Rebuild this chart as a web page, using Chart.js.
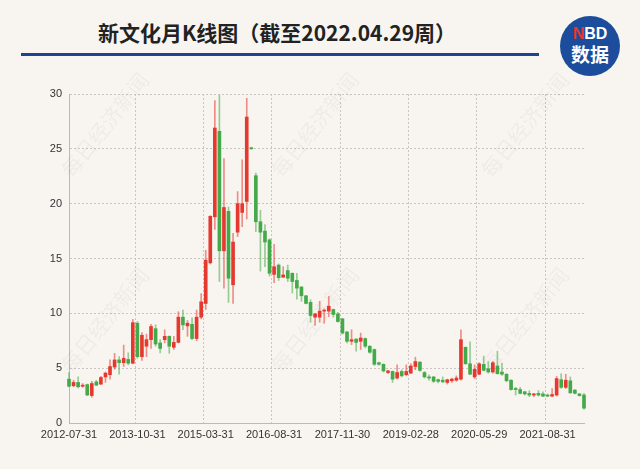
<!DOCTYPE html>
<html>
<head>
<meta charset="utf-8">
<script src="https://cdn.jsdelivr.net/npm/chart.js@4.4.1/dist/chart.umd.min.js"></script>
<style>
  html, body { margin: 0; padding: 0; background: #f8f5f0; }
  #wrap { position: relative; width: 640px; height: 469px; background: #f8f5f0; overflow: hidden; }
  #title { position: absolute; left: 0; width: 554px; top: 17px; text-align: center;
    font: bold 21px "Noto Sans CJK SC", sans-serif; color: #222; }
  #rule { position: absolute; left: 21px; width: 518px; top: 53px; height: 3px; background: #1a4592; }
  #logo { position: absolute; left: 560px; top: 16px; width: 60px; height: 60px; border-radius: 50%;
    background: #1b4d9c; color: #fff; text-align: center; font-family: "Noto Sans CJK SC", sans-serif; font-weight: bold; }
  #logo .nbd { position: absolute; top: 9px; width: 100%; font: bold 16px "Liberation Sans", sans-serif; }
  #logo .nbd span { color: #e8352e; }
  #logo .sj { position: absolute; top: 27px; width: 100%; font-size: 19px; line-height: 22px; }
  canvas { position: absolute; left: 0; top: 0; }
</style>
</head>
<body>
<div id="wrap">
  <div id="title">新文化月K线图（截至2022.04.29周）</div>
  <div id="rule"></div>
  <div id="logo"><div class="nbd"><span>N</span>BD</div><div class="sj">数据</div></div>
  <canvas id="kchart" width="640" height="469"></canvas>
</div>
<script>
// monthly candles, index 0 = 2012-07
const dates = [
  '2012-07-31','2012-08-31','2012-09-28','2012-10-31','2012-11-30','2012-12-31','2013-01-31','2013-02-28',
  '2013-03-29','2013-04-26','2013-05-31','2013-06-28','2013-07-31','2013-08-30','2013-09-30','2013-10-31',
  '2013-11-29','2013-12-31','2014-03-31','2014-04-30','2014-05-30','2014-06-30','2014-07-31','2014-08-29',
  '2014-09-30','2014-10-31','2014-11-28','2014-12-31','2015-01-30','2015-02-27','2015-03-31','2015-04-30',
  '2015-05-29','2015-06-30','2015-07-31','2015-08-31','2015-09-30','2015-10-30','2015-11-30','2015-12-31',
  '2016-03-31','2016-04-29','2016-05-31','2016-06-30','2016-07-29','2016-08-31','2016-09-30','2016-10-31',
  '2016-11-30','2016-12-30','2017-01-26','2017-02-28','2017-03-31','2017-04-28','2017-05-31','2017-06-30',
  '2017-07-31','2017-08-31','2017-09-29','2017-10-31','2017-11-30','2017-12-29','2018-01-31','2018-02-28',
  '2018-03-30','2018-04-27','2018-05-31','2018-06-29','2018-07-31','2018-08-31','2018-09-28','2018-10-31',
  '2018-11-30','2018-12-28','2019-01-31','2019-02-28','2019-03-29','2019-04-30','2019-05-31','2019-06-28',
  '2019-07-31','2019-08-30','2019-09-30','2019-10-31','2019-11-29','2019-12-31','2020-01-23','2020-02-28',
  '2020-03-31','2020-04-30','2020-05-29','2020-06-30','2020-07-31','2020-08-31','2020-09-30','2020-10-30',
  '2020-11-30','2020-12-31','2021-01-29','2021-02-26','2021-03-31','2021-04-30','2021-05-31','2021-06-30',
  '2021-07-30','2021-08-31','2021-09-30','2021-10-29','2021-11-30','2021-12-31','2022-01-28','2022-02-28',
  '2022-03-31','2022-04-29'
];

const openP = [
  4.0, 3.4, 3.7, 3.35, 3.5, 2.5, 3.75, 3.55, 4.2, 4.4, 5.1, 5.75, 5.5, 5.8, 5.45, 9.1,
  6.05, 7.0, 7.6, 8.6, 7.3, 7.6, 7.9, 6.9, 7.35, 9.65, 8.85, 9.0, 7.7, 9.65, 10.9, 14.6,
  18.8, 26.6, 15.7, 19.3, 12.6, 17.4, 19.2, 20.2, 25.1, 22.55, 18.35, 17.5, 16.7, 13.55, 14.4, 13.3,
  13.9, 13.65, 13.0, 12.4, 11.6, 11.0, 9.65, 9.65, 10.2, 10.2, 10.35, 9.95, 9.5, 8.3, 7.45, 7.65,
  7.45, 7.7, 7.0, 6.7, 5.5, 5.35, 4.6, 4.7, 4.1, 4.7, 4.4, 4.55, 5.15, 5.55, 4.6, 4.2,
  4.2, 3.95, 3.9, 3.7, 3.85, 3.9, 4.0, 6.9, 5.4, 4.2, 4.45, 5.35, 4.95, 4.65, 5.2, 4.65,
  4.45, 3.9, 3.15, 3.05, 2.85, 2.7, 2.55, 2.7, 2.65, 2.55, 2.45, 2.55, 3.95, 3.25, 3.85, 3.0,
  2.65, 2.55
];
const highP = [
  4.6, 3.9, 4.2, 3.6, 3.55, 3.8, 3.9, 4.25, 4.65, 5.75, 6.35, 6.05, 7.1, 6.4, 9.45, 9.25,
  8.25, 8.1, 9.0, 8.95, 7.6, 8.5, 7.95, 7.9, 10.15, 10.3, 9.35, 9.6, 10.3, 11.8, 15.75, 18.9,
  29.4, 29.9, 24.1, 19.7, 17.3, 21.1, 24.0, 29.6, 25.15, 22.8, 19.4, 18.1, 16.8, 16.3, 14.5, 14.25,
  14.4, 13.7, 13.65, 12.45, 11.65, 11.25, 10.0, 11.1, 10.4, 11.55, 10.4, 10.1, 9.55, 8.35, 8.5, 7.7,
  8.2, 7.75, 7.05, 6.75, 5.55, 5.4, 4.8, 4.75, 5.3, 4.85, 5.3, 5.4, 6.0, 5.6, 4.7, 4.4,
  4.25, 4.0, 4.2, 4.0, 4.1, 4.3, 8.5, 6.95, 7.4, 5.3, 5.5, 6.1, 5.6, 5.6, 6.55, 5.45,
  4.5, 3.95, 3.25, 3.25, 2.9, 2.95, 2.7, 2.95, 2.85, 2.65, 3.15, 4.25, 4.5, 4.45, 4.2, 3.05,
  2.7, 2.7
];
const lowP = [
  3.3, 3.3, 3.2, 3.25, 2.5, 2.35, 3.4, 3.5, 3.7, 4.0, 4.9, 4.45, 5.15, 5.3, 5.4, 5.9,
  5.7, 6.05, 6.8, 7.0, 6.4, 7.3, 6.35, 6.7, 7.3, 8.5, 7.9, 7.6, 7.5, 9.5, 10.35, 14.5,
  17.65, 12.9, 12.3, 11.0, 10.9, 17.0, 17.9, 18.6, 24.95, 17.45, 13.85, 14.25, 13.4, 12.8, 13.0, 13.25,
  12.9, 11.85, 11.3, 11.1, 10.85, 9.2, 8.9, 9.2, 9.1, 9.7, 9.65, 9.2, 8.1, 7.3, 7.15, 6.55,
  6.7, 6.85, 6.35, 5.25, 5.25, 4.65, 4.5, 3.7, 4.0, 4.2, 4.3, 4.5, 4.85, 4.7, 4.1, 3.9,
  3.7, 3.65, 3.7, 3.55, 3.7, 3.8, 3.9, 5.35, 4.4, 4.05, 4.4, 4.75, 4.55, 4.55, 4.45, 4.35,
  3.75, 3.0, 2.55, 2.65, 2.55, 2.4, 2.4, 2.45, 2.4, 2.4, 2.4, 2.45, 3.15, 3.15, 2.7, 2.65,
  2.45, 1.25
];
const closeP = [
  3.35, 3.7, 3.3, 3.45, 2.55, 3.6, 3.45, 4.15, 4.55, 5.15, 5.75, 5.5, 5.9, 5.45, 9.15, 6.05,
  8.0, 7.6, 8.8, 7.2, 6.8, 7.9, 7.0, 7.35, 9.65, 8.95, 9.1, 7.7, 9.65, 11.05, 14.85, 18.85,
  26.9, 15.7, 19.65, 13.2, 16.5, 20.0, 20.0, 27.9, 25.0, 18.35, 17.4, 16.5, 13.65, 14.25, 13.25, 13.5,
  13.2, 12.9, 12.3, 11.6, 10.9, 9.8, 9.95, 10.2, 10.3, 10.65, 9.9, 9.25, 8.2, 7.45, 7.6, 7.35,
  7.75, 7.0, 6.45, 5.35, 5.35, 4.75, 4.75, 4.0, 4.6, 4.3, 4.7, 5.2, 5.6, 4.8, 4.2, 4.1,
  3.8, 3.8, 3.75, 3.95, 4.0, 4.1, 7.6, 5.4, 4.45, 4.9, 5.4, 4.8, 4.65, 5.5, 4.5, 4.45,
  3.85, 3.05, 3.05, 2.7, 2.65, 2.55, 2.65, 2.55, 2.45, 2.45, 2.6, 4.05, 3.25, 3.9, 2.75, 2.7,
  2.5, 1.35
];

const yTicks = [0, 5, 10, 15, 20, 25, 30];
const labelEvery = 15;

const UP = '#e5392f', DOWN = '#44a948';
const UP_WICK = 'rgba(229,57,47,0.55)', DOWN_WICK = 'rgba(68,169,72,0.55)';
const isUp = closeP.map((c, i) => c >= openP[i]);

const watermark = {
  id: 'watermark',
  beforeDatasetsDraw(chart) {
    const ctx = chart.ctx;
    ctx.save();
    ctx.font = '21px "Noto Sans CJK SC"';
    ctx.fillStyle = 'rgba(0,0,0,0.04)';
    ctx.textAlign = 'center';
    ctx.textBaseline = 'middle';
    [[105, 125], [315, 125], [525, 125], [105, 320], [315, 320], [525, 320]].forEach(p => {
      ctx.save();
      ctx.translate(p[0], p[1]);
      ctx.rotate(-0.9);
      ctx.fillText('每日经济新闻', 0, 0);
      ctx.restore();
    });
    ctx.restore();
  }
};

const data = {
  labels: dates,
  datasets: [
    {
      label: 'body',
      data: dates.map((d, i) => [openP[i], closeP[i]]),
      backgroundColor: isUp.map(u => u ? UP : DOWN),
      barThickness: 3,
      grouped: false,
      order: 0,
      clip: false
    },
    {
      label: 'wick',
      data: dates.map((d, i) => [lowP[i], highP[i]]),
      backgroundColor: isUp.map(u => u ? UP_WICK : DOWN_WICK),
      barThickness: 1,
      grouped: false,
      order: 1,
      clip: false
    }
  ]
};

const tickFont = { family: '"Liberation Sans", Arial, sans-serif', size: 11 };

const config = {
  type: 'bar',
  data: data,
  plugins: [watermark],
  options: {
    responsive: false,
    animation: false,
    layout: { padding: { top: 94, right: 56, bottom: 0, left: 0 } },
    plugins: {
      legend: { display: false },
      tooltip: { enabled: false },
      title: { display: false }
    },
    scales: {
      x: {
        type: 'category',
        offset: false,
        grid: {
          color: c => (c.index % labelEvery === 0 ? '#c9c6c2' : 'rgba(0,0,0,0)'),
          drawTicks: false
        },
        border: { display: true, color: '#bdbab6', dash: [2, 2] },
        ticks: {
          autoSkip: false,
          maxRotation: 0,
          padding: 5,
          color: '#333',
          font: tickFont,
          callback: function (v, i) { return i % labelEvery === 0 ? this.getLabelForValue(v) : ''; }
        },
        afterFit(scale) { scale.height = 46; }
      },
      y: {
        min: 0,
        max: 30,
        afterBuildTicks(scale) { scale.ticks = yTicks.map(v => ({ value: v })); },
        grid: { color: '#c9c6c2', drawTicks: false },
        border: { display: true, color: '#bdbab6', dash: [2, 2] },
        ticks: { padding: 7, color: '#333', font: tickFont },
        afterFit(scale) { scale.width = 69; }
      }
    }
  }
};

const ctx = document.getElementById('kchart').getContext('2d');
const chart = new Chart(ctx, config);
</script>
</body>
</html>
